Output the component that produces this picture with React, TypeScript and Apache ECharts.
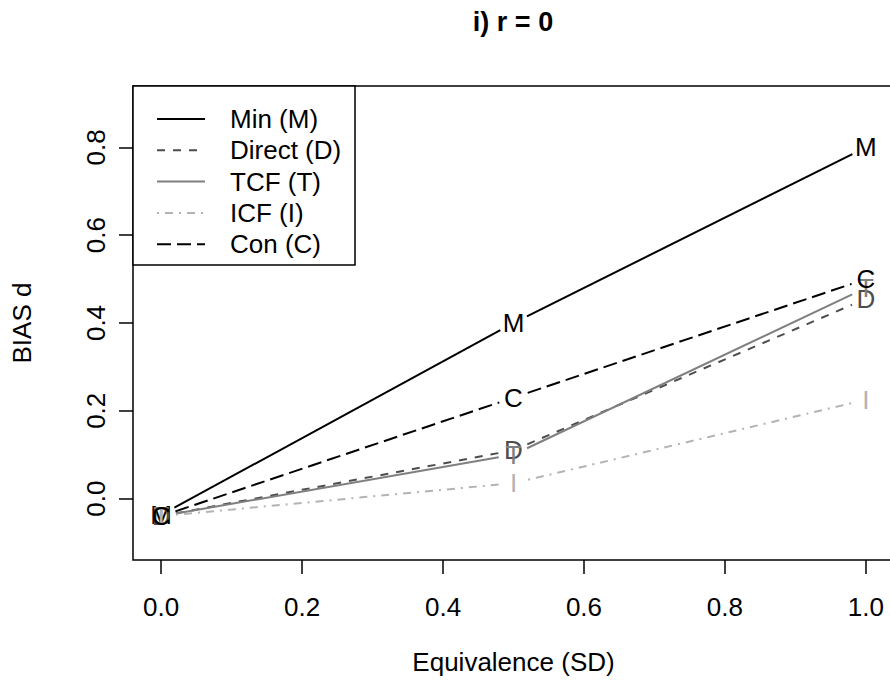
import React, { useEffect, useRef } from "react";
import * as echarts from "echarts";

// Equivalence levels (in SD) on the x axis
const equivalence = [0, 0.5, 1.0];

// Bias in d for each estimation method
const minBias = [-0.037, 0.4, 0.8];
const directBias = [-0.04, 0.11, 0.455];
const tcfBias = [-0.04, 0.1, 0.48];
const icfBias = [-0.04, 0.035, 0.225];
const conBias = [-0.04, 0.23, 0.5];

const seriesNames = ["Min (M)", "Direct (D)", "TCF (T)", "ICF (I)", "Con (C)"];
const seriesLetters = ["M", "D", "T", "I", "C"];
const seriesValues = [minBias, directBias, tcfBias, icfBias, conBias];

const xTicks = [0, 0.2, 0.4, 0.6, 0.8, 1.0];
const yTicks = [0, 0.2, 0.4, 0.6, 0.8];

const FONT = "'Liberation Sans', Arial, Helvetica, sans-serif";
const FS = 26;

const seriesStyles: { color: string; dash: number[] | null }[] = [
  { color: "#000000", dash: null },
  { color: "#4d4d4d", dash: [8, 8] },
  { color: "#7f7f7f", dash: null },
  { color: "#b3b3b3", dash: [2, 6, 8, 6] },
  { color: "#000000", dash: [14, 6] },
];

// gap (px) left between a letter and the connecting segment, like type = "b"
const GAP = 15;

function makeSeries(k: number) {
  const values = seriesValues[k];
  const st = seriesStyles[k];
  return {
    type: "custom",
    name: seriesNames[k],
    data: equivalence.map((x, i) => [x, values[i]]),
    clip: false,
    renderItem: (params: any, api: any) => {
      const i = params.dataIndex;
      const p = api.coord([api.value(0), api.value(1)]);
      const children: any[] = [];
      if (i < values.length - 1) {
        const q = api.coord([equivalence[i + 1], values[i + 1]]);
        const dx = q[0] - p[0];
        const dy = q[1] - p[1];
        const len = Math.hypot(dx, dy);
        const g = GAP / len;
        children.push({
          type: "line",
          shape: {
            x1: p[0] + dx * g,
            y1: p[1] + dy * g,
            x2: q[0] - dx * g,
            y2: q[1] - dy * g,
          },
          style: {
            stroke: st.color,
            lineWidth: 2,
            lineDash: st.dash || undefined,
            fill: null,
          },
        });
      }
      children.push({
        type: "text",
        x: p[0],
        y: p[1],
        style: {
          text: seriesLetters[k],
          fill: st.color,
          fontSize: FS,
          fontFamily: FONT,
          align: "center",
          verticalAlign: "middle",
        },
      });
      return { type: "group", children };
    },
  };
}

function legendGraphics() {
  const items: any[] = [
    {
      type: "rect",
      shape: { x: 133, y: 86, width: 222, height: 179 },
      style: { fill: "#ffffff", stroke: "#000000", lineWidth: 1.5 },
      z: 50,
    },
  ];
  seriesNames.forEach((name, k) => {
    const y = 119 + 31.3 * k;
    const st = seriesStyles[k];
    items.push({
      type: "line",
      shape: { x1: 157, y1: y, x2: 205, y2: y },
      style: { stroke: st.color, lineWidth: 2, lineDash: st.dash || undefined },
      z: 51,
    });
    items.push({
      type: "text",
      x: 230,
      y: y,
      style: {
        text: name,
        fill: "#000000",
        fontSize: FS,
        fontFamily: FONT,
        align: "left",
        verticalAlign: "middle",
        textAlign: "left",
        textVerticalAlign: "middle",
      },
      z: 51,
    });
  });
  return items;
}

export default function App() {
  const ref = useRef<HTMLDivElement>(null);

  useEffect(() => {
    if (!ref.current) return;
    const chart = echarts.init(ref.current, null, { renderer: "svg" });
    const tickStyle = { color: "#000000", width: 1.5 };
    chart.setOption({
      animation: false,
      backgroundColor: "#ffffff",
      textStyle: { fontFamily: FONT },
      grid: {
        left: 133,
        top: 86,
        width: 761,
        height: 474,
        show: true,
        borderColor: "#000000",
        borderWidth: 1.5,
        backgroundColor: "transparent",
      },
      xAxis: {
        type: "value",
        min: -0.04,
        max: 1.04,
        name: "Equivalence (SD)",
        nameLocation: "middle",
        nameGap: 89,
        nameTextStyle: { fontSize: FS, color: "#000000", fontFamily: FONT },
        axisLine: { show: false, onZero: false },
        splitLine: { show: false },
        axisTick: { show: true, length: 14, lineStyle: tickStyle, customValues: xTicks },
        axisLabel: {
          show: true,
          customValues: xTicks,
          margin: 34,
          fontSize: FS,
          color: "#000000",
          fontFamily: FONT,
          formatter: (v: number) => v.toFixed(1),
        },
      },
      yAxis: {
        type: "value",
        min: -0.14,
        max: 0.94,
        name: "BIAS d",
        nameLocation: "middle",
        nameGap: 98,
        nameRotate: 90,
        nameTextStyle: { fontSize: FS, color: "#000000", fontFamily: FONT },
        axisLine: { show: false, onZero: false },
        splitLine: { show: false },
        axisTick: { show: true, length: 14, lineStyle: tickStyle, customValues: yTicks },
        axisLabel: {
          show: true,
          customValues: yTicks,
          rotate: 90,
          margin: 24,
          fontSize: FS,
          color: "#000000",
          fontFamily: FONT,
          formatter: (v: number) => v.toFixed(1),
        },
      },
      graphic: [
        {
          type: "text",
          x: 513,
          y: 22,
          style: {
            text: "i) r = 0",
            fill: "#000000",
            fontSize: 27,
            fontWeight: "bold",
            fontFamily: FONT,
            align: "center",
            verticalAlign: "middle",
            textAlign: "center",
            textVerticalAlign: "middle",
          },
        },
        ...legendGraphics(),
      ],
      series: seriesNames.map((_, k) => makeSeries(k)),
    });
    return () => chart.dispose();
  }, []);

  // The plot frame runs past the right edge of the page, so the chart canvas
  // is wider than the visible area and clipped by the outer box.
  return (
    <div
      style={{
        position: "fixed",
        left: 0,
        top: 0,
        width: 890,
        height: 690,
        overflow: "hidden",
        background: "#fff",
      }}
    >
      <div ref={ref} style={{ width: 910, height: 690 }} />
    </div>
  );
}
